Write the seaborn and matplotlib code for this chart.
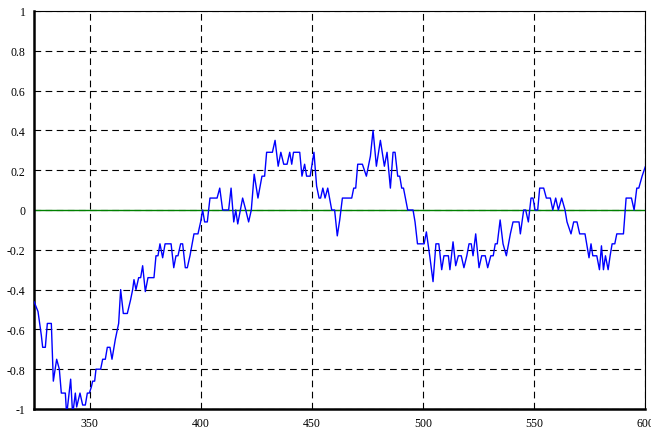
import matplotlib
matplotlib.use("Agg")
import matplotlib.pyplot as plt
import seaborn as sns
import pandas as pd

x_vals = [325, 326.8, 328.3, 328.9, 330.1, 331, 332.8, 333.7, 335.2, 336.4, 337.3, 339.1, 339.7,
          341.5, 342.4, 343.6, 344.2, 345.7, 346.9, 348.1, 349, 349.9, 350.8, 351.4, 352.3, 352.9,
          355, 355.9, 357.1, 358, 359.2, 360.1, 361.6, 363.1, 364, 365.2, 367, 368.5, 369.4, 370.0,
          370.9, 372.1, 373.0, 373.9, 375.1, 376.3, 379.0, 379.9, 380.8, 381.7, 382.9, 384.0, 386.7,
          387.9, 388.9, 389.8, 391.0, 391.9, 393.1, 394.0, 395.2, 397.0, 398.8, 400.0, 400.9, 401.8,
          403.0, 404.2, 407.4, 408.6, 409.9, 412.6, 413.7, 414.9, 415.8, 416.7, 418.9, 420.3, 421.6,
          422.8, 424.1, 425.8, 427.6, 428.8, 429.7, 432.3, 433.5, 434.9, 436.1, 437.4, 438.9, 440.1,
          441.0, 441.8, 444.6, 445.6, 446.8, 447.7, 449.3, 451.0, 452.2, 453.3, 454.0, 455.0, 456.0,
          457.2, 459.0, 460.3, 461.5, 462.6, 463.8, 468.0, 468.9, 469.8, 470.7, 472.8, 474.6, 476.4,
          477.6, 479.1, 480.9, 482.7, 483.9, 485.4, 486.6, 487.5, 488.7, 489.6, 490.5, 491.3, 493.2,
          495.6, 496.5, 497.6, 500.6, 501.6, 503.1, 504.6, 505.9, 507.2, 508.5, 509.5, 511.5, 512.2,
          513.6, 514.8, 516.0, 517.3, 518.5, 519.8, 520.8, 521.8, 522.6, 523.8, 525.3, 526.5, 528.1,
          529.2, 530.6, 531.7, 532.6, 533.5, 534.8, 536.1, 537.6, 539.4, 540.6, 543.3, 543.9, 545.4,
          546.3, 547.5, 548.7, 549.6, 550.5, 551.7, 552.6, 554.4, 555.6, 557.4, 558.5, 559.8, 561.0,
          562.5, 564.0, 564.9, 566.7, 567.9, 569.4, 570.6, 573.0, 573.9, 574.8, 575.7, 576.5, 578.3,
          579.5, 580.4, 581.3, 582.2, 583.4, 584.3, 585.2, 586.4, 587.3, 590.3, 591.5, 593.9, 595.1,
          596.3, 597.2, 598.7, 599.6, 600.5]
y_vals = [-0.46, -0.51, -0.63, -0.69, -0.69, -0.57, -0.57, -0.86, -0.75, -0.80, -0.92, -0.92, -1.03,
          -0.85, -1.03, -0.92, -0.99, -0.92, -0.98, -0.98, -0.92, -0.92, -0.89, -0.86, -0.86, -0.80,
          -0.80, -0.75, -0.75, -0.69, -0.69, -0.75, -0.65, -0.57, -0.40, -0.52, -0.52, -0.45, -0.40, -0.35,
          -0.40, -0.34, -0.34, -0.28, -0.41, -0.34, -0.34, -0.23, -0.23, -0.17, -0.24, -0.17, -0.17,
          -0.29, -0.23, -0.23, -0.17, -0.17, -0.29, -0.29, -0.23, -0.12, -0.12, -0.06, 0.0, -0.06,
          -0.06, 0.06, 0.06, 0.11, 0.0, 0.0, 0.11, -0.06, 0.0, -0.07, 0.06, 0.0, -0.06,
          0.0, 0.18, 0.06, 0.17, 0.17, 0.29, 0.29, 0.35, 0.22, 0.29, 0.23, 0.23, 0.29,
          0.23, 0.29, 0.29, 0.17, 0.23, 0.17, 0.17, 0.29, 0.12, 0.06, 0.06, 0.11, 0.06,
          0.11, 0.0, 0.0, -0.13, -0.05, 0.06, 0.06, 0.11, 0.11, 0.23, 0.23, 0.17, 0.27,
          0.40, 0.22, 0.35, 0.22, 0.29, 0.11, 0.29, 0.29, 0.17, 0.17, 0.11, 0.11, 0.0,
          0.0, -0.06, -0.17, -0.17, -0.11, -0.23, -0.36, -0.17, -0.17, -0.30, -0.23, -0.23, -0.30,
          -0.16, -0.28, -0.23, -0.23, -0.29, -0.23, -0.17, -0.17, -0.23, -0.12, -0.29, -0.23, -0.23,
          -0.29, -0.23, -0.23, -0.17, -0.17, -0.05, -0.17, -0.23, -0.12, -0.06, -0.06, -0.12, 0.0,
          0.0, -0.06, 0.06, 0.06, 0.0, 0.0, 0.11, 0.11, 0.06, 0.06, 0.0, 0.06, 0.0,
          0.06, 0.0, -0.06, -0.12, -0.06, -0.06, -0.12, -0.12, -0.18, -0.24, -0.17, -0.23, -0.23,
          -0.30, -0.18, -0.30, -0.23, -0.30, -0.23, -0.17, -0.17, -0.12, -0.12, 0.06, 0.06, 0.0,
          0.11, 0.11, 0.17, 0.20, 0.23]

x_ticks = [350, 400, 450, 500, 550, 600]
y_ticks = [-1, -0.8, -0.6, -0.4, -0.2, 0, 0.2, 0.4, 0.6, 0.8, 1]
y_labels = ["-1", "-0.8", "-0.6", "-0.4", "-0.2", "0", "0.2", "0.4", "0.6", "0.8", "1"]

sns.set_style("white")
plt.rcParams['font.family'] = ['Liberation Serif', 'DejaVu Serif']

df = pd.DataFrame({"x": x_vals, "y": y_vals})

fig = plt.figure(figsize=(6.51, 4.31), dpi=100)
ax = fig.add_axes([34/651, 1-410/431, (645-34)/651, (410-12)/431])

ax.axhline(0, color="#008000", lw=1.0, zorder=2)
sns.lineplot(data=df, x="x", y="y", ax=ax, color="#0000ff", lw=1.0,
             estimator=None, sort=False, zorder=3)

ax.set_xlim(325, 600)
ax.set_ylim(-1, 1)
ax.set_xticks(x_ticks)
ax.set_xticklabels([str(t) for t in x_ticks])
ax.set_yticks(y_ticks)
ax.set_yticklabels(y_labels)
ax.set_xlabel("")
ax.set_ylabel("")
ax.grid(True, color="black", linestyle=(0, (6, 4)), lw=0.8, zorder=1)
ax.tick_params(direction="in", length=4, width=0.8, labelsize=8.5, colors="black",
               top=False, right=False, pad=6)
for name, sp in ax.spines.items():
    sp.set_visible(True)
    sp.set_color("black")
    sp.set_linewidth(0.8)
ax.spines["left"].set_linewidth(1.8)
ax.spines["bottom"].set_linewidth(1.8)

fig.savefig("out.png", dpi=100, facecolor="white")
